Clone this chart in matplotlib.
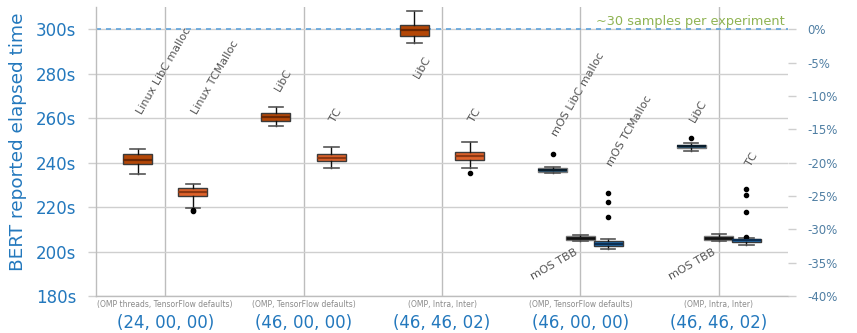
import matplotlib
matplotlib.use("Agg")
import matplotlib.pyplot as plt
import matplotlib.transforms as mtransforms

# ---------------- data ----------------
groups = ["(24, 00, 00)", "(46, 00, 00)", "(46, 46, 02)", "(46, 00, 00)", "(46, 46, 02)"]
group_notes = ["(OMP threads, TensorFlow defaults)", "(OMP, TensorFlow defaults)",
               "(OMP, Intra, Inter)", "(OMP, TensorFlow defaults)", "(OMP, Intra, Inter)"]

box_names = ["Linux LibC malloc", "Linux TCMalloc", "LibC", "TC", "LibC", "TC",
             "mOS LibC malloc", "mOS TBB", "mOS TCMalloc", "LibC", "mOS TBB", "TC"]
box_kind = ["libc", "tc", "libc", "tc", "libc", "tc",
            "mlibc", "mtbb", "mtc", "mlibc", "mtbb", "mtc"]
box_group = [0, 0, 1, 1, 2, 2, 3, 3, 3, 4, 4, 4]
box_slot = [-1, 1, -1, 1, -1, 1, -1, 0, 1, -1, 0, 1]

whislo = [234.8, 219.4, 256.4, 237.4, 293.6, 237.7, 235.4, 204.7, 201.1, 245.3, 204.7, 202.9]
q1 = [239.2, 225.1, 258.8, 240.7, 296.9, 241.1, 235.8, 205.3, 202.3, 246.5, 205.3, 204.2]
med = [241.3, 226.9, 260.6, 242.2, 299.6, 243.1, 236.6, 206.1, 203.5, 247.3, 206.1, 205.0]
q3 = [243.7, 228.7, 262.4, 243.7, 302.1, 244.6, 237.6, 206.8, 204.7, 248.0, 206.9, 205.6]
whishi = [246.1, 230.3, 264.8, 246.8, 308.2, 249.1, 238.1, 207.4, 205.5, 248.9, 207.7, 206.2]
fliers = [[], [218.7, 218.3], [], [], [], [235.4], [243.8], [],
          [215.4, 222.3, 226.4], [250.9], [], [206.7, 217.9, 225.4, 228.0]]

baseline_s = 300.0
note_text = "~30 samples per experiment"

# label placement (text, data units)
label_y = [261.4, 261.4, 271.7, 257.8, 277.5, 257.8, 251.6, 198.9, 238.1, 257.6, 198.9, 238.1]
label_rot = [60, 60, 60, 60, 60, 60, 60, 30, 60, 60, 30, 60]

# ---------------- style ----------------
slot_step = 0.2
box_w = 0.21
face = {"libc": "#b44707", "tc": "#e0632b", "mlibc": "#1d4a6b",
        "mtbb": "#8f8f8f", "mtc": "#1f6db3"}
medc = {"libc": "#6a2704", "tc": "#8c3712", "mlibc": "#0b1e2c",
        "mtbb": "#111111", "mtc": "#0d2f52"}
blue = "#2378bd"
grid_c = "#cfcfcf"
vgrid_c = "#bdbdbd"

fig = plt.figure(figsize=(8.57, 3.33), dpi=100)
ax = fig.add_axes([96 / 857, 37 / 333, (788 - 96) / 857, (296 - 7) / 333])

positions = [g + s * slot_step for g, s in zip(box_group, box_slot)]

for i in range(len(box_names)):
    st = [dict(whislo=whislo[i], q1=q1[i], med=med[i], q3=q3[i], whishi=whishi[i],
               fliers=fliers[i], label=box_names[i])]
    k = box_kind[i]
    ax.bxp(st, positions=[positions[i]], widths=box_w, patch_artist=True,
           boxprops=dict(facecolor=face[k], edgecolor="#3a3a3a" if k in ("libc", "tc", "mtc") else "#7a7a7a", linewidth=1),
           medianprops=dict(color=medc[k], linewidth=1.6 if k != "mtbb" else 2.0),
           whiskerprops=dict(color="#111111", linewidth=1),
           capprops=dict(color="#555555", linewidth=1.2),
           flierprops=dict(marker="o", markerfacecolor="black", markeredgecolor="black",
                           markersize=3, linestyle="none"),
           manage_ticks=False, zorder=3)

# rotated labels
for i, name in enumerate(box_names):
    if label_rot[i] == 30:
        ax.text(positions[i] - 0.015, label_y[i], name, rotation=label_rot[i],
                rotation_mode="anchor", ha="right", va="baseline",
                fontsize=8, color="#555555", zorder=4)
    else:
        ax.text(positions[i] + 0.03, label_y[i], name, rotation=label_rot[i],
                rotation_mode="anchor", ha="left", va="baseline",
                fontsize=8, color="#555555", zorder=4)

ax.axhline(baseline_s, color="#5ea3dc", linestyle=(0, (3, 3)), linewidth=1.2, zorder=2)
ax.text(0.995, baseline_s + 2.0, note_text,
        transform=mtransforms.blended_transform_factory(ax.transAxes, ax.transData),
        ha="right", va="baseline", fontsize=9.3, color="#8fb352")

ax.set_xlim(-0.5, len(groups) - 0.5)
ax.set_ylim(180, 310)
yt = [180, 200, 220, 240, 260, 280, 300]
ax.set_yticks(yt)
ax.set_yticklabels([f"{v}s" for v in yt], color=blue, fontsize=12)
ax.set_xticks(range(len(groups)))
ax.set_xticklabels(groups, color=blue, fontsize=12)
ax.tick_params(axis="x", length=0, pad=13)
ax.tick_params(axis="y", length=6, color=grid_c, width=1, pad=8)
ax.set_ylabel("BERT reported elapsed time", color=blue, fontsize=13.3)
ax.yaxis.set_label_coords(-0.099, 0.535)

ax.grid(axis="y", color=grid_c, linewidth=1, zorder=0)
ax.grid(axis="x", color=vgrid_c, linewidth=1, zorder=0)
ax.set_axisbelow(True)
for side in ("top", "right"):
    ax.spines[side].set_visible(False)
for side in ("left", "bottom"):
    ax.spines[side].set_color(vgrid_c)
    ax.spines[side].set_linewidth(1)

tr = mtransforms.blended_transform_factory(ax.transData, ax.transAxes)
for i, n in enumerate(group_notes):
    ax.annotate(n, xy=(i, 0), xycoords=tr, xytext=(0, -3), textcoords="offset points",
                ha="center", va="top", fontsize=5.5, color="#8a8a8a")

# percent axis
ax2 = ax.twinx()
lo, hi = ax.get_ylim()
ax2.set_ylim((lo / baseline_s - 1) * 100, (hi / baseline_s - 1) * 100)
pt = list(range(0, -45, -5))
ax2.set_yticks(pt)
ax2.set_yticklabels([f"{v}%" for v in pt], color="#4f7ea3", fontsize=8.5)
ax2.tick_params(axis="y", length=6, color=grid_c, width=1, pad=8)
for s in ax2.spines.values():
    s.set_visible(False)

fig.savefig("out.png", dpi=100)
